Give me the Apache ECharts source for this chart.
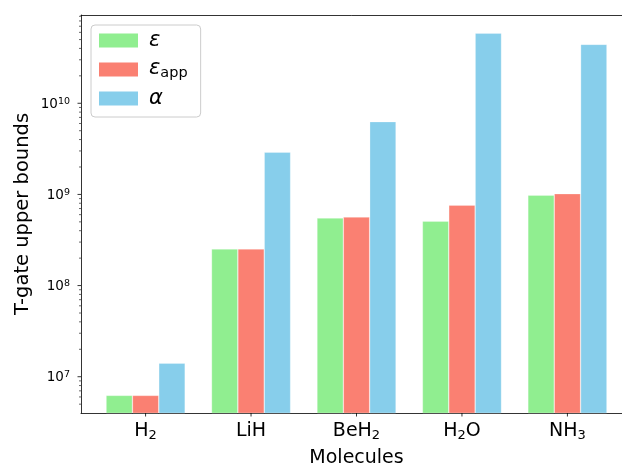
<!DOCTYPE html>
<html><head><meta charset="utf-8">
<script src="https://cdn.jsdelivr.net/npm/echarts@6/dist/echarts.min.js"></script>
<style>html,body{margin:0;padding:0;background:#fff}#c{width:622px;height:465px}</style>
</head><body><div id="c"></div>
<script>
// ---- data ----
const categories = ['H2', 'LiH', 'BeH2', 'H2O', 'NH3'];
const seriesNames = ['ε', 'εapp', 'α'];
const epsValues = [6.24e6, 2.52e8, 5.51e8, 5.10e8, 9.8e8];
const epsAppValues = [6.24e6, 2.52e8, 5.65e8, 7.64e8, 1.02e9];
const alphaValues = [1.41e7, 2.91e9, 6.29e9, 5.89e10, 4.43e10];
const yMajorTicks = [1e7, 1e8, 1e9, 1e10];
const yMinorMultipliers = [2, 3, 4, 5, 6, 7, 8, 9];
const legendLabels = ['{e|ε}', '{e2|ε}{sub|app}', '{e|α}'];

// ---- styling ----
const FONT = 'DejaVu Sans';
const colors = ['#90EE90', '#FA8072', '#87CEEB'];
const xMin = -0.6125, xMax = 4.6125, yMin = 4.0e6, yMax = 9.3e10;

const fmtCat = s => s.replace(/(\D+)|(\d+)/g, (m, a, d) => a ? '{b|' + a + '}' : '{s|' + d + '}');

const tickData = [];
yMajorTicks.forEach(v => tickData.push([xMin, v, 0]));
for (let e = 6; e <= 10; e++) {
  yMinorMultipliers.forEach(m => {
    const v = m * Math.pow(10, e);
    if (v > yMin && v < yMax) tickData.push([xMin, v, 1]);
  });
}
categories.forEach((c, i) => tickData.push([i, yMin, 2]));

const allValues = [epsValues, epsAppValues, alphaValues];
const barSeries = seriesNames.map((name, k) => ({
  name: name,
  type: 'bar',
  barWidth: '25%',
  barGap: '0%',
  clip: true,
  data: allValues[k].map((v, i) => [i, v]),
  itemStyle: { color: colors[k], borderColor: 'rgba(255,255,255,0.45)', borderWidth: 0.6 },
  emphasis: { disabled: true }
}));

const chart = echarts.init(document.getElementById('c'), null, { renderer: 'canvas' });
chart.setOption({
  animation: false,
  backgroundColor: '#fff',
  textStyle: { fontFamily: FONT },
  grid: { left: 81, top: 15, width: 551, height: 398, outerBoundsMode: 'none', containLabel: false, show: false },
  legend: {
    orient: 'vertical',
    left: 91, top: 25,
    padding: [5, 9, 8, 8],
    itemWidth: 39, itemHeight: 14, itemGap: 7,
    icon: 'rect',
    data: seriesNames,
    borderColor: '#cccccc', borderWidth: 1, borderRadius: 4,
    backgroundColor: 'rgba(255,255,255,0.8)',
    itemStyle: { borderWidth: 0 },
    formatter: name => legendLabels[seriesNames.indexOf(name)],
    textStyle: {
      color: '#000',
      rich: {
        e: { fontFamily: FONT, fontSize: 21, fontStyle: 'italic', lineHeight: 22, padding: [0, 0, 0, 6], color: '#000' },
        e2: { fontFamily: FONT, fontSize: 21, fontStyle: 'italic', lineHeight: 22, padding: [0, 0, 2, 6], color: '#000' },
        sub: { fontFamily: FONT, fontSize: 14.5, lineHeight: 14, verticalAlign: 'bottom', padding: [0, 4, 0, 0], color: '#000' }
      }
    }
  },
  xAxis: [{
    type: 'value', min: xMin, max: xMax, splitNumber: 5,
    name: 'Molecules', nameLocation: 'middle', nameGap: 36,
    nameTextStyle: { fontFamily: FONT, fontSize: 19, color: '#000' },
    axisLine: { show: true, onZero: false, lineStyle: { color: '#000', width: 0.8 } },
    axisTick: { show: false },
    splitLine: { show: false },
    axisLabel: {
      margin: 9, color: '#000', showMinLabel: false, showMaxLabel: false,
      formatter: v => {
        const i = Math.round(v);
        if (Math.abs(v - i) > 1e-6 || i < 0 || i >= categories.length) return '';
        return fmtCat(categories[i]);
      },
      rich: {
        b: { fontFamily: FONT, fontSize: 19, lineHeight: 20, padding: [0, 0, 1, 0], color: '#000' },
        s: { fontFamily: FONT, fontSize: 13, lineHeight: 13, verticalAlign: 'bottom', color: '#000' }
      }
    }
  }, {
    type: 'value', position: 'top', min: xMin, max: xMax,
    axisLine: { show: true, onZero: false, lineStyle: { color: '#000', width: 0.8 } },
    axisTick: { show: false }, axisLabel: { show: false }, splitLine: { show: false }
  }],
  yAxis: {
    type: 'log', logBase: 10, min: yMin, max: yMax,
    name: 'T-gate upper bounds', nameLocation: 'middle', nameGap: 48, nameMoveOverlap: false,
    nameTextStyle: { fontFamily: FONT, fontSize: 19.5, color: '#000' },
    axisLine: { show: true, onZero: false, lineStyle: { color: '#000', width: 0.8 } },
    axisTick: { show: false },
    splitLine: { show: false },
    minorTick: { show: false },
    axisLabel: {
      margin: 11, color: '#000', showMinLabel: false, showMaxLabel: false,
      formatter: v => {
        const e = Math.round(Math.log10(v));
        if (Math.abs(v / Math.pow(10, e) - 1) > 1e-6) return '';
        return '{b|10}{s|' + e + '}';
      },
      rich: {
        b: { fontFamily: FONT, fontSize: 13.5, lineHeight: 14, padding: [2, 0, 0, 0], color: '#000' },
        s: { fontFamily: FONT, fontSize: 9.5, lineHeight: 10, verticalAlign: 'top', color: '#000' }
      }
    }
  },
  series: barSeries.concat([{
    type: 'custom',
    silent: true,
    z: 10,
    clip: false,
    data: tickData,
    encode: { x: 0, y: 1 },
    renderItem: (params, api) => {
      const p = api.coord([api.value(0), api.value(1)]);
      const k = api.value(2);
      let shape;
      if (k === 2) shape = { x1: p[0], y1: p[1], x2: p[0], y2: p[1] + 3.5 };
      else {
        const L = k === 0 ? 3.5 : 2;
        shape = { x1: p[0] - L, y1: p[1], x2: p[0], y2: p[1] };
      }
      return { type: 'line', shape: shape, style: { stroke: '#000', lineWidth: k === 1 ? 0.6 : 0.8 } };
    }
  }])
});
</script>
</body></html>
